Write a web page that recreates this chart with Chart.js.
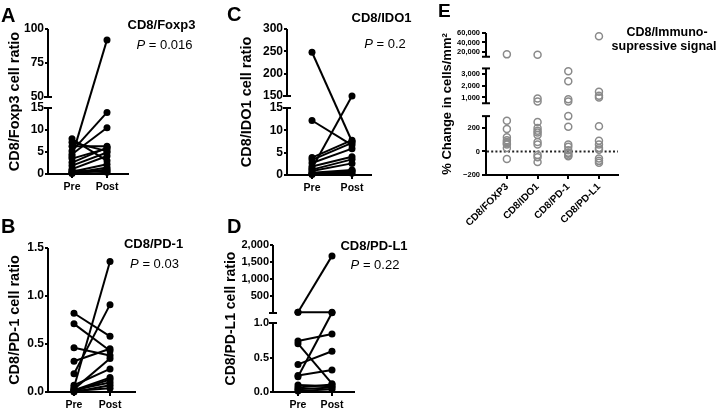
<!DOCTYPE html>
<html><head><meta charset="utf-8">
<script src="https://cdn.jsdelivr.net/npm/chart.js@4/dist/chart.umd.min.js"></script>
<style>
html,body{margin:0;padding:0;background:#fff;}
#wrap{position:relative;width:720px;height:413px;overflow:hidden;background:#fff;}
#wrap canvas{position:absolute;left:0;top:0;}
.t{position:absolute;white-space:nowrap;font-family:'Liberation Sans',Arial,sans-serif;color:#000;}
</style></head><body>
<div id="wrap">
<canvas id="cA" width="720" height="413"></canvas>
<canvas id="cB" width="720" height="413"></canvas>
<canvas id="cC" width="720" height="413"></canvas>
<canvas id="cD" width="720" height="413"></canvas>
<canvas id="cE" width="720" height="413"></canvas>
</div>
<script>
// ---------------- DATA ----------------
const prePostLabels = ['Pre', 'Post'];

const foxp3Pre  = [4.0, 8.0, 5.2, 4.5, 7.2, 6.3, 3.5, 2.6, 1.9, 1.1, 0.5, 0.2, 0.3, 0.8, 0.1];
const foxp3Post = [92, 3.0, 14, 10.5, 5.2, 6.3, 5.8, 6.0, 4.9, 4.1, 2.2, 1.5, 0.7, 0.4, 1.0];
const foxp3Ticks = [0, 5, 10, 15, 50, 75, 100];
const foxp3TickLabels = ['0', '5', '10', '15', '50', '75', '100'];

const pd1Pre  = [0.05, 0.19, 0.82, 0.71, 0.46, 0.32, 0.07, 0.03, 0.02, 0.01, 0.02, 0.00, 0.01];
const pd1Post = [1.36, 0.91, 0.58, 0.43, 0.38, 0.45, 0.24, 0.35, 0.15, 0.13, 0.10, 0.07, 0.04];
const pd1Ticks = [0, 0.5, 1.0, 1.5];
const pd1TickLabels = ['0.0', '0.5', '1.0', '1.5'];

const ido1Pre  = [248, 1.5, 12.2, 3.9, 3.4, 2.7, 1.9, 1.2, 0.9, 0.5, 0.2, 0.3, 0.1];
const ido1Post = [7.5, 150, 6.7, 7.8, 7.2, 5.9, 4.1, 3.5, 2.6, 1.1, 0.7, 0.4, 1.0];
const ido1Ticks = [0, 5, 10, 15, 150, 200, 250, 300];
const ido1TickLabels = ['0', '5', '10', '15', '150', '200', '250', '300'];

const pdl1Pre  = [20, 20, 0.74, 0.70, 0.40, 0.24, 0.22, 0.10, 0.065, 0.04, 0.015];
const pdl1Post = [1680, 20, 0.84, 0.12, 0.59, 0.32, 10, 0.085, 0.11, 0.065, 0.04];
const pdl1Ticks = [0, 0.5, 1.0, 500, 1000, 1500, 2000];
const pdl1TickLabels = ['0.0', '0.5', '1.0', '500', '1,000', '1,500', '2,000'];

const changeCategories = ['CD8/FOXP3', 'CD8/IDO1', 'CD8/PD-1', 'CD8/PD-L1'];
const changeFoxp3 = [15000, 260, 190, 120, 95, 80, 70, 60, 30, -65];
const changeIdo1  = [14000, 900, 650, 250, 200, 175, 160, 140, 80, 60, -30, -50, -90];
const changePd1   = [3250, 2400, 850, 650, 300, 210, 60, 40, 10, -10, -20, -35, -40];
const changePdl1  = [53000, 1500, 1150, 1000, 215, 90, 60, 30, 15, -60, -80, -95];
const changeTicks = [-200, 0, 200, 1000, 2000, 3000, 20000, 40000, 60000];
const changeTickLabels = ['\u2212200', '0', '200', '1,000', '2,000', '3,000', '20,000', '40,000', '60,000'];

// ---------------- AXIS CONFIG (broken axes) ----------------
const SEG = {
  A: [{min:0,max:15,d0:0,d1:66/145},{min:50,max:100,d0:77/145,d1:1}],
  B: [{min:0,max:1.5,d0:0,d1:1}],
  C: [{min:0,max:15,d0:0,d1:67/146},{min:150,max:300,d0:79/146,d1:1}],
  D: [{min:0,max:1,d0:0,d1:69/147},{min:1,max:2000,d0:79/147,d1:1}],
  E: [{min:-200,max:300,d0:0,d1:59/142.3},{min:500,max:3500,d0:71.9/142.3,d1:106.8/142.3},{min:10000,max:60000,d0:118.5/142.3,d1:1}]
};
const TICKS = {A:foxp3Ticks, B:pd1Ticks, C:ido1Ticks, D:pdl1Ticks, E:changeTicks};
const TICKLABELS = {A:foxp3TickLabels, B:pd1TickLabels, C:ido1TickLabels, D:pdl1TickLabels, E:changeTickLabels};

class BrokenScale extends Chart.LinearScale {
  _segs(){ return SEG[this.options.segKey]; }
  determineDataLimits(){ const s=this._segs(); this.min=s[0].min; this.max=s[s.length-1].max; }
  buildTicks(){ return TICKS[this.options.segKey].map(v=>({value:v})); }
  getPixelForValue(v){
    if (v===null||v===undefined||isNaN(v)) return NaN;
    const s=this._segs(); let g=s[s.length-1];
    for (const q of s){ if (v<=q.max){ g=q; break; } }
    return this.getPixelForDecimal(g.d0 + (v-g.min)/(g.max-g.min)*(g.d1-g.d0));
  }
  getValueForPixel(p){
    const d=this.getDecimalForPixel(p); const s=this._segs();
    for (const q of s){ if (d<=q.d1) return q.min+(d-q.d0)/(q.d1-q.d0)*(q.max-q.min); }
    return s[s.length-1].max;
  }
}
BrokenScale.id = 'broken';
BrokenScale.defaults = {};
Chart.register(BrokenScale);

Chart.defaults.font.family = "'Liberation Sans', Arial, sans-serif";
Chart.defaults.color = '#000';

const axisPlugin = {
  id: 'brokenAxis',
  beforeDatasetsDraw(chart, args, opts){
    if (!opts.zeroLine) return;
    const y=chart.scales.y, ca=chart.chartArea, ctx=chart.ctx;
    const py=y.getPixelForValue(0);
    ctx.save(); ctx.strokeStyle='#222'; ctx.lineWidth=2; ctx.setLineDash([2,2.2]);
    ctx.beginPath(); ctx.moveTo(ca.left+1, py); ctx.lineTo(ca.right, py); ctx.stroke();
    ctx.restore();
  },
  afterDraw(chart, args, opts){
    const y=chart.scales.y, ca=chart.chartArea, ctx=chart.ctx;
    const s=SEG[y.options.segKey];
    const lw=opts.lw||2, cw=opts.cw||4;
    ctx.save(); ctx.strokeStyle='#000'; ctx.lineWidth=lw; ctx.lineCap='butt';
    const cap=(p)=>{ ctx.beginPath(); ctx.moveTo(ca.left-cw,p); ctx.lineTo(ca.left+cw,p); ctx.stroke(); };
    s.forEach((g,i)=>{
      const p0=y.getPixelForDecimal(g.d0), p1=y.getPixelForDecimal(g.d1);
      ctx.beginPath(); ctx.moveTo(ca.left, i===0 ? p0+lw/2 : p0); ctx.lineTo(ca.left, p1); ctx.stroke();
      if (i>0) cap(p0);
      if (i<s.length-1) cap(p1);
    });
    ctx.restore();
  }
};

function pairSets(pre, post){
  return pre.map((p,i)=>({
    data:[{x:0,y:p},{x:1,y:post[i]}],
    borderColor:'#000', borderWidth:2,
    pointRadius:3.5, pointBackgroundColor:'#000', pointBorderWidth:0,
    pointHoverRadius:3.5, tension:0
  }));
}

function makeChart(id, key, g, datasets, type){
  const W=720, H=413;
  return new Chart(document.getElementById(id), {
    type: type || 'line',
    data: { datasets },
    plugins: [axisPlugin],
    options: {
      responsive:false, animation:false, events:[],
      layout:{ padding:{ left:g.pl, top:g.top, right:W-g.right, bottom:H-g.bottom-g.xh } },
      plugins:{ legend:{display:false}, tooltip:{enabled:false}, brokenAxis:{ zeroLine:!!g.zero, lw:g.alw||2, cw:g.cw||4 } },
      scales:{
        x:{
          type:'linear', min:g.xmin, max:g.xmax,
          afterBuildTicks:(s)=>{ s.ticks = g.xlabels.map((_,i)=>({value:i})); },
          afterFit:(s)=>{ s.height = g.xh; },
          ticks:{ autoSkip:false, callback:(v,i)=>g.xlabels[i], font:{size:g.xfs, weight:'bold'}, color:'#000',
                  maxRotation:g.rot||0, minRotation:g.rot||0, padding:g.xpad==null?3:g.xpad },
          grid:{ display:true, drawOnChartArea:false, drawTicks:true, tickLength:4, color:'#000', lineWidth:2 },
          border:{ display:true, color:'#000', width:2 }
        },
        y:{
          type:'broken', segKey:key,
          afterFit:(s)=>{ s.width = g.left - g.pl; },
          ticks:{ autoSkip:false, callback:(v,i)=>TICKLABELS[key][i], font:{size:g.yfs, weight:'bold'}, color:'#000', padding:g.ypad==null?1:g.ypad },
          grid:{ display:true, drawOnChartArea:false, drawTicks:true, tickLength:g.tl||3, color:'#000', lineWidth:2 },
          border:{ display:false },
          title:{ display:true, text:g.ytitle, color:'#000', font:{size:g.tfs, weight:'bold'}, padding:{top:g.tpad, bottom:0} }
        }
      },
      elements:{ line:{ tension:0 } }
    }
  });
}

makeChart('cA','A',{left:48,right:128,top:29,bottom:174,pl:0,xh:30,xmin:-0.686,xmax:1.6,xlabels:prePostLabels,
  xfs:10.5,yfs:12,tfs:14.5,tpad:6,ytitle:'CD8/Foxp3 cell ratio'}, pairSets(foxp3Pre, foxp3Post));
makeChart('cB','B',{left:48,right:135,top:248,bottom:392,pl:0,xh:21,xmin:-0.722,xmax:1.694,xlabels:prePostLabels,
  xfs:10.5,yfs:12,tfs:14.5,tpad:6,ytitle:'CD8/PD-1 cell ratio'}, pairSets(pd1Pre, pd1Post));
makeChart('cC','C',{left:287,right:371,top:29,bottom:175,pl:232,xh:30,xmin:-0.625,xmax:1.475,xlabels:prePostLabels,
  xfs:10.5,yfs:12,tfs:14.5,tpad:6,ytitle:'CD8/IDO1 cell ratio'}, pairSets(ido1Pre, ido1Post));
makeChart('cD','D',{left:273,right:354,top:245,bottom:392,pl:217,xh:21,xmin:-0.735,xmax:1.647,xlabels:prePostLabels,
  xfs:10.5,yfs:11,tfs:14,tpad:6,ytitle:'CD8/PD-L1 cell ratio'}, pairSets(pdl1Pre, pdl1Post));

const changeSeries = [changeFoxp3, changeIdo1, changePd1, changePdl1];
const eSets = changeSeries.map((arr,ci)=>({
  data: arr.map(v=>({x:ci, y:v})),
  pointRadius:3.5, pointBorderWidth:1.5, pointBorderColor:'#8a8a8a', pointBackgroundColor:'rgba(255,255,255,0)',
  showLine:false
}));
makeChart('cE','E',{left:486,right:618,top:33,bottom:175,pl:436,xh:60,xmin:-0.68,xmax:3.62,xlabels:changeCategories,
  xfs:10,yfs:7.5,tfs:13,tpad:3.2,ypad:2,tl:4,rot:45,xpad:2,zero:true,ytitle:'% Change in cells/mm\u00B2'}, eSets, 'scatter');

// ---------------- TEXT LABELS ----------------
const texts = [
  {h:'A', x:1, b:22, s:20, w:'bold'},
  {h:'B', x:1, b:233, s:20, w:'bold'},
  {h:'C', x:227, b:21, s:20, w:'bold'},
  {h:'D', x:227, b:233, s:20, w:'bold'},
  {h:'E', x:438, b:17, s:19, w:'bold'},
  {h:'CD8/Foxp3', cx:161.5, b:29.5, s:13, w:'bold'},
  {h:'<i>P</i> = 0.016', cx:164.5, b:49.5, s:13, w:'normal'},
  {h:'CD8/IDO1', cx:381.5, b:22, s:13, w:'bold'},
  {h:'<i>P</i> = 0.2', cx:385, b:48.5, s:13, w:'normal'},
  {h:'CD8/PD-1', cx:153.5, b:248, s:13, w:'bold'},
  {h:'<i>P</i> = 0.03', cx:154.5, b:268.5, s:13, w:'normal'},
  {h:'CD8/PD-L1', cx:374, b:250, s:13, w:'bold'},
  {h:'<i>P</i> = 0.22', cx:375, b:269.5, s:13, w:'normal'},
  {h:'CD8/Immuno-', cx:667, b:36.5, s:12.5, w:'bold'},
  {h:'supressive signal', cx:664, b:51, s:12.5, w:'bold'}
];
const wrap=document.getElementById('wrap');
texts.forEach(t=>{
  const d=document.createElement('div');
  d.className='t'; d.innerHTML=t.h;
  d.style.fontSize=t.s+'px'; d.style.lineHeight=t.s+'px'; d.style.fontWeight=t.w;
  d.style.top=(t.b-0.8465*t.s)+'px';
  if (t.cx!=null){ d.style.left=t.cx+'px'; d.style.transform='translateX(-50%)'; }
  else d.style.left=t.x+'px';
  wrap.appendChild(d);
});
</script>
</body></html>
